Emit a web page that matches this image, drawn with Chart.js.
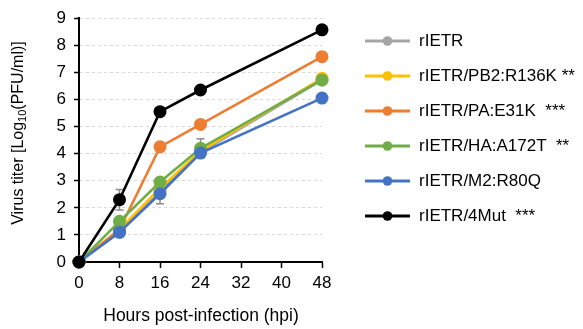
<!DOCTYPE html>
<html><head><meta charset="utf-8">
<script src="https://cdn.jsdelivr.net/npm/chart.js@4/dist/chart.umd.min.js"></script>
<style>html,body{margin:0;padding:0;background:#fff}#wrap{width:583px;height:329px}</style>
</head><body><div id="wrap"><canvas id="c" width="583" height="329"></canvas></div>
<script>
const hours = [0, 8, 16, 24, 48];
const seriesNames = ["rIETR", "rIETR/PB2:R136K", "rIETR/PA:E31K", "rIETR/HA:A172T", "rIETR/M2:R80Q", "rIETR/4Mut"];
const stars = ["", " **", "  ***", "  **", "", "  ***"];
const colors = ["#A5A5A5", "#FFC000", "#ED7D31", "#70AD47", "#4472C4", "#000000"];
const rIETR      = [0, 1.1, 2.6, 4.05, 6.72];
const rIETR_PB2  = [0, 1.2, 2.72, 4.1, 6.78];
const rIETR_PA   = [0, 1.2, 4.25, 5.08, 7.58];
const rIETR_HA   = [0, 1.5, 2.95, 4.2, 6.72];
const rIETR_M2   = [0, 1.1, 2.52, 4.02, 6.05];
const rIETR_4Mut = [0, 2.3, 5.55, 6.35, 8.57];
const errRIETR   = [0, 0.15, 0.2, 0.15, 0.1];
const errPB2     = [0, 0.1, 0.2, 0.1, 0.1];
const errPA      = [0, 0.1, 0.1, 0.1, 0.1];
const errHA      = [0, 0.1, 0.1, 0.35, 0.1];
const errM2      = [0, 0.2, 0.37, 0.1, 0.1];
const err4Mut    = [0, 0.38, 0.1, 0.1, 0.1];
const xTicks = [0, 8, 16, 24, 32, 40, 48];
const yTicks = [0, 1, 2, 3, 4, 5, 6, 7, 8, 9];

const values = [rIETR, rIETR_PB2, rIETR_PA, rIETR_HA, rIETR_M2, rIETR_4Mut];
const errors = [errRIETR, errPB2, errPA, errHA, errM2, err4Mut];
const FONT = "'Liberation Sans', Arial, sans-serif";

const datasets = values.map((v, i) => ({
  label: seriesNames[i],
  data: v.map((y, j) => ({x: hours[j], y: y})),
  err: errors[i],
  borderColor: colors[i],
  backgroundColor: colors[i],
  pointBackgroundColor: colors[i],
  pointBorderColor: colors[i],
  pointRadius: 6.5,
  pointBorderWidth: 0,
  borderWidth: 2.6,
  tension: 0,
  clip: false,
  order: 6 - i
}));

const errPlugin = {
  id: 'errbars',
  beforeDatasetsDraw(chart) {
    const ctx = chart.ctx, xs = chart.scales.x, ys = chart.scales.y;
    ctx.save();
    ctx.strokeStyle = '#8c8c8c';
    ctx.lineWidth = 1.5;
    chart.data.datasets.forEach(ds => {
      ds.data.forEach((p, j) => {
        const e = ds.err[j];
        if (!e) return;
        const x = xs.getPixelForValue(p.x);
        const y1 = ys.getPixelForValue(p.y - e), y2 = ys.getPixelForValue(p.y + e);
        ctx.beginPath();
        ctx.moveTo(x, y1); ctx.lineTo(x, y2);
        ctx.moveTo(x - 4, y1); ctx.lineTo(x + 4, y1);
        ctx.moveTo(x - 4, y2); ctx.lineTo(x + 4, y2);
        ctx.stroke();
      });
    });
    ctx.restore();
  }
};

const decoPlugin = {
  id: 'deco',
  afterDraw(chart) {
    const ctx = chart.ctx;
    ctx.save();
    ctx.fillStyle = '#000';
    ctx.translate(19, 133);
    ctx.rotate(-Math.PI / 2);
    const parts = [["Virus titer [Log", 16, 0], ["10", 11, 4], ["(PFU/ml)]", 16, 0]];
    let tw = 0;
    parts.forEach(p => { ctx.font = p[1] + 'px ' + FONT; tw += ctx.measureText(p[0]).width; });
    let x = -tw / 2;
    ctx.textBaseline = 'middle';
    parts.forEach(p => {
      ctx.font = p[1] + 'px ' + FONT;
      ctx.fillText(p[0], x, p[2]);
      x += ctx.measureText(p[0]).width;
    });
    ctx.restore();
    ctx.save();
    ctx.fillStyle = '#000';
    ctx.font = '17.5px ' + FONT;
    ctx.textAlign = 'center';
    ctx.textBaseline = 'middle';
    ctx.fillText('Hours post-infection (hpi)', 201, 316);
    ctx.restore();
    ctx.save();
    chart.data.datasets.forEach((ds, i) => {
      const y = 41 + i * 35;
      ctx.strokeStyle = ds.borderColor;
      ctx.lineWidth = 3;
      ctx.beginPath(); ctx.moveTo(365, y); ctx.lineTo(410, y); ctx.stroke();
      ctx.fillStyle = ds.borderColor;
      ctx.beginPath(); ctx.arc(387.5, y, 4.8, 0, Math.PI * 2); ctx.fill();
      ctx.fillStyle = '#000';
      ctx.font = '17px ' + FONT;
      ctx.textBaseline = 'middle';
      ctx.fillText(ds.label + stars[i], 419, y);
    });
    ctx.restore();
  }
};

new Chart(document.getElementById('c'), {
  type: 'line',
  data: { datasets },
  plugins: [errPlugin, decoPlugin],
  options: {
    responsive: false,
    animation: false,
    events: [],
    layout: { padding: { left: 0, right: 261, top: 15.5, bottom: 0 } },
    plugins: { legend: { display: false }, tooltip: { enabled: false } },
    scales: {
      x: {
        type: 'linear', min: 0, max: 48,
        afterBuildTicks: s => { s.ticks = xTicks.map(v => ({value: v})); },
        afterFit: s => { s.height = 67; },
        grid: { display: true, drawOnChartArea: false, drawTicks: true, tickLength: 6, tickColor: '#000', tickWidth: 1.5 },
        border: { color: '#000', width: 2 },
        ticks: { color: '#000', font: { size: 17, family: FONT }, padding: 5, maxRotation: 0 }
      },
      y: {
        type: 'linear', min: 0, max: 9,
        afterBuildTicks: s => { s.ticks = yTicks.map(v => ({value: v})); },
        afterFit: s => { s.width = 79; },
        grid: { color: '#d9d9d9', lineWidth: 1, drawTicks: true, tickLength: 5, tickColor: '#000', tickWidth: 1.5, tickBorderDash: [] },
        border: { color: '#000', width: 2, dash: [3, 3] },
        ticks: { color: '#000', font: { size: 17, family: FONT }, padding: 8 }
      }
    }
  }
});
</script>
</body></html>
